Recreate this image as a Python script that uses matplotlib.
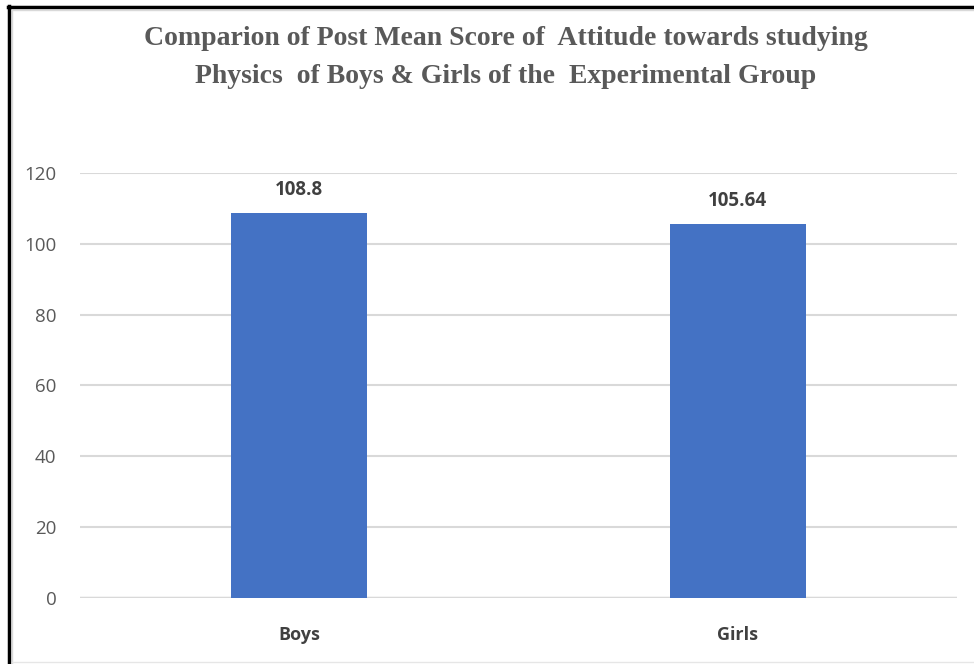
import matplotlib.pyplot as plt
from matplotlib.lines import Line2D

# данные
groups = ["Boys", "Girls"]
scores = [108.8, 105.64]
score_labels = ["108.8", "105.64"]
y_ticks = [0, 20, 40, 60, 80, 100, 120]

title = ("Comparion of Post Mean Score of  Attitude towards studying\n"
         "Physics  of Boys & Girls of the  Experimental Group")

fig = plt.figure(figsize=(9.74, 6.64), dpi=100)
fig.patch.set_facecolor("white")

ax = fig.add_axes([0.0821, 0.0994, 0.9004, 0.6401])
bars = ax.bar(range(len(groups)), scores, width=0.31, color="#4472C4", zorder=3)

ax.set_xlim(-0.5, len(groups) - 0.5)
ax.set_ylim(0, 120)
ax.set_yticks(y_ticks)
ax.set_yticklabels([str(t) for t in y_ticks], fontsize=13.5, color="#595959",
                   family="Open Sans")
ax.set_xticks(range(len(groups)))
ax.set_xticklabels(groups, fontsize=13, color="#404040", fontweight="bold",
                   family="Open Sans")
ax.tick_params(axis="both", length=0)
ax.tick_params(axis="y", pad=17)
ax.tick_params(axis="x", pad=20)
for s in ax.spines.values():
    s.set_visible(False)
ax.grid(axis="y", color="#d9d9d9", linewidth=1.5, zorder=0)
ax.axhline(0, color="#d9d9d9", linewidth=2.5, zorder=2)

for rect, lab in zip(bars, score_labels):
    ax.annotate(lab, (rect.get_x() + rect.get_width() / 2, rect.get_height()),
                xytext=(0, 9), textcoords="offset points", ha="center",
                va="bottom", fontsize=13.5, fontweight="bold", color="#404040",
                family="Open Sans")

fig.text(0.519, 0.913, title, ha="center", va="center", fontsize=20,
         fontweight="bold", color="#595959", family="Liberation Serif",
         linespacing=1.7)

# рамка как на скриншоте
fig.add_artist(Line2D([9 / 974, 9 / 974], [0, 1 - 6 / 664], color="black",
                      linewidth=2.5, transform=fig.transFigure))
fig.add_artist(Line2D([8 / 974, 1], [1 - 7 / 664, 1 - 7 / 664], color="black",
                      linewidth=2.5, transform=fig.transFigure))
fig.add_artist(Line2D([12 / 974, 12 / 974], [0, 1 - 10 / 664], color="#d9d9d9",
                      linewidth=1, transform=fig.transFigure))
fig.add_artist(Line2D([12 / 974, 1], [1 - 10 / 664, 1 - 10 / 664], color="#d9d9d9",
                      linewidth=1, transform=fig.transFigure))
fig.add_artist(Line2D([12 / 974, 1], [2 / 664, 2 / 664], color="#e6e6e6",
                      linewidth=1, transform=fig.transFigure))

fig.savefig("out.png", dpi=100)
